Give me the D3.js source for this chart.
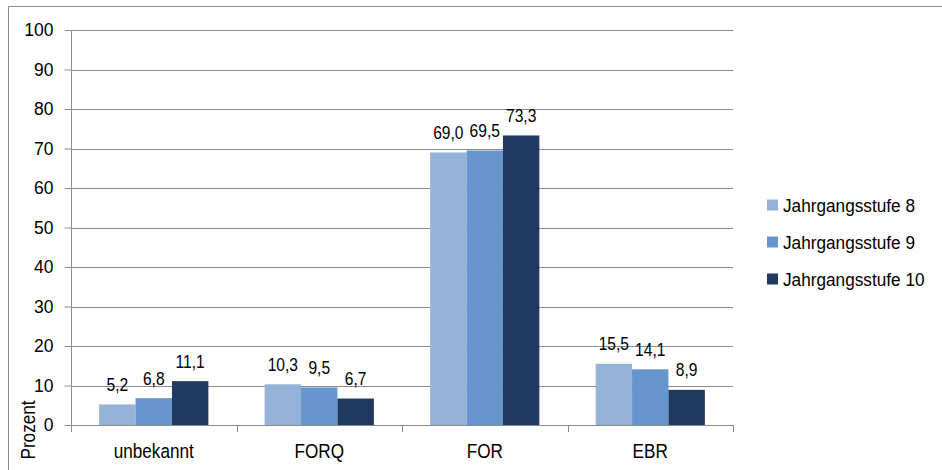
<!DOCTYPE html>
<html>
<head>
<meta charset="utf-8">
<script src="https://cdn.jsdelivr.net/npm/d3@7"></script>
<style>
  html, body { margin: 0; padding: 0; background: #fff; }
  svg { display: block; font-family: "Liberation Sans", Arial, sans-serif; }
</style>
</head>
<body>
<svg id="chart" width="942" height="470"></svg>
<script>
// Schulformempfehlung nach Jahrgangsstufe (Prozent)
const categories = ["unbekannt", "FORQ", "FOR", "EBR"];
const seriesNames = ["Jahrgangsstufe 8", "Jahrgangsstufe 9", "Jahrgangsstufe 10"];
const stufe8 = [5.2, 10.3, 69.0, 15.5];
const stufe9 = [6.8, 9.5, 69.5, 14.1];
const stufe10 = [11.1, 6.7, 73.3, 8.9];
const yTicks = [0, 10, 20, 30, 40, 50, 60, 70, 80, 90, 100];
const colors = ["#95b3d7", "#6795cd", "#1f3960"];

const seriesValues = [stufe8, stufe9, stufe10];
const fmt = v => v.toFixed(1).replace(".", ",");

const svg = d3.select("#chart");
const plot = { left: 71, right: 733, top: 30, bottom: 425 };
const grey = "#8c8c8c";

// text in the chart is set in a slightly narrowed face
const narrow = (x, y, sx) => `translate(${x},${y}) scale(${sx},1)`;

// outer chart frame (top and left edges)
svg.append("path")
  .attr("d", "M8.5,470 V6.5 H942")
  .attr("fill", "none").attr("stroke", grey).attr("stroke-width", 1);

const y = d3.scaleLinear().domain([0, 100]).range([plot.bottom, plot.top]);
const x0 = d3.scaleBand().domain(categories).range([plot.left, plot.right]).padding(0);
const bw = x0.bandwidth();
const gap = bw * 0.17;
const x1 = d3.scaleBand().domain(d3.range(seriesNames.length)).range([gap, bw - gap]).padding(0);

// horizontal gridlines
svg.append("g").selectAll("line")
  .data(yTicks.filter(t => t > 0))
  .join("line")
  .attr("x1", plot.left).attr("x2", plot.right)
  .attr("y1", d => Math.round(y(d)) + 0.5).attr("y2", d => Math.round(y(d)) + 0.5)
  .attr("stroke", grey).attr("stroke-width", 1);

// y axis
const yAxis = svg.append("g")
  .attr("transform", `translate(${plot.left + 0.5},0)`)
  .call(d3.axisLeft(y).tickValues(yTicks).tickSize(7).tickPadding(11).tickFormat(d3.format("d")));
yAxis.selectAll("path, line").attr("stroke", grey);
yAxis.select(".domain").attr("d", `M0,${plot.bottom}V${plot.top}`);
yAxis.selectAll("text").attr("font-size", 17.5).attr("fill", "#000")
  .attr("font-family", "'Liberation Sans', Arial, sans-serif");

// bars
const groups = svg.append("g").selectAll("g")
  .data(categories)
  .join("g")
  .attr("transform", d => `translate(${x0(d)},0)`);

groups.selectAll("rect")
  .data((c, ci) => seriesValues.map((vals, si) => ({ si, v: vals[ci] })))
  .join("rect")
  .attr("x", d => x1(d.si))
  .attr("width", x1.bandwidth())
  .attr("y", d => y(d.v))
  .attr("height", d => y(0) - y(d.v))
  .attr("fill", d => colors[d.si]);

// value labels
groups.selectAll("text")
  .data((c, ci) => seriesValues.map((vals, si) => ({ si, v: vals[ci] })))
  .join("text")
  .attr("transform", d => narrow(x1(d.si) + x1.bandwidth() / 2, y(d.v) - 13.5, 0.88))
  .attr("text-anchor", "middle")
  .attr("font-size", 17.7)
  .attr("fill", "#000")
  .text(d => fmt(d.v));

// x axis with ticks between categories
const xg = svg.append("g");
xg.append("line")
  .attr("x1", plot.left).attr("x2", plot.right)
  .attr("y1", plot.bottom + 0.5).attr("y2", plot.bottom + 0.5)
  .attr("stroke", grey);
xg.selectAll("line.tick")
  .data(categories.map(c => x0(c)).concat([plot.right]))
  .join("line")
  .attr("class", "tick")
  .attr("x1", d => Math.round(d) + 0.5).attr("x2", d => Math.round(d) + 0.5)
  .attr("y1", plot.bottom).attr("y2", plot.bottom + 7)
  .attr("stroke", grey);
xg.selectAll("text")
  .data(categories)
  .join("text")
  .attr("transform", d => narrow(x0(d) + bw / 2, 458, 0.88))
  .attr("text-anchor", "middle")
  .attr("font-size", 19.5)
  .attr("fill", "#000")
  .text(d => d);

// y axis title
svg.append("text")
  .attr("transform", "translate(35,430) rotate(-90) scale(0.88,1)")
  .attr("text-anchor", "middle")
  .attr("font-size", 19.5)
  .attr("fill", "#000")
  .text("Prozent");

// legend
const legend = svg.append("g").selectAll("g")
  .data(seriesNames)
  .join("g")
  .attr("transform", (d, i) => `translate(767,${205 + i * 37})`);
legend.append("rect")
  .attr("x", 0).attr("y", -5.5).attr("width", 11).attr("height", 11)
  .attr("fill", (d, i) => colors[i]);
legend.append("text")
  .attr("transform", narrow(16, 6.5, 0.93))
  .attr("font-size", 18.5)
  .attr("fill", "#000")
  .text(d => d);
</script>
</body>
</html>
